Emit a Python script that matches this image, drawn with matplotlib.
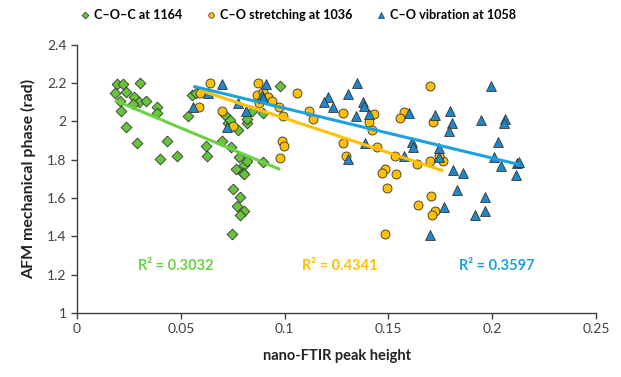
import numpy as np
import matplotlib
matplotlib.use("Agg")
import matplotlib.pyplot as plt
from matplotlib.lines import Line2D

plt.rcParams['font.family'] = ['Lato', 'DejaVu Sans']

# ---- data ----
coc_x = [0.0191, 0.0220, 0.0303, 0.0183, 0.0236, 0.0275, 0.0207, 0.0300, 0.0332, 0.0271,
         0.0212, 0.0236, 0.0387, 0.0387, 0.0288, 0.0432, 0.0400, 0.0483, 0.0535, 0.0552,
         0.0573, 0.0621, 0.0625, 0.0697, 0.0713, 0.0726, 0.0737, 0.0740, 0.0777, 0.0782,
         0.0766, 0.0804, 0.0817, 0.0798, 0.0804, 0.0753, 0.0785, 0.0769, 0.0804, 0.0785,
         0.0745, 0.0817, 0.0817, 0.0841, 0.0894, 0.0978, 0.0894]
coc_y = [2.196, 2.196, 2.200, 2.148, 2.155, 2.127, 2.106, 2.104, 2.109, 2.090,
         2.052, 1.970, 2.078, 2.043, 1.887, 1.899, 1.805, 1.817, 2.029, 2.139,
         2.148, 1.873, 1.817, 1.899, 2.034, 1.991, 2.008, 1.864, 1.956, 1.813,
         1.751, 1.773, 1.794, 1.733, 1.725, 1.649, 1.608, 1.559, 1.534, 1.510,
         1.411, 1.991, 2.012, 2.052, 2.046, 2.186, 1.790]

str_x = [0.0641, 0.0592, 0.0589, 0.0700, 0.0753, 0.0873, 0.0865, 0.0894, 0.0922, 0.0938,
         0.0878, 0.0975, 0.1061, 0.0994, 0.0986, 0.0999, 0.0978, 0.1119, 0.1138, 0.1280,
         0.1408, 0.1419, 0.1431, 0.1575, 0.1553, 0.1280, 0.1296, 0.1444, 0.1532, 0.1639,
         0.1484, 0.1468, 0.1537, 0.1492, 0.1644, 0.1484, 0.1700, 0.1716, 0.1700, 0.1764,
         0.1745, 0.1704, 0.1724, 0.1709]
str_y = [2.200, 2.151, 2.078, 2.052, 1.974, 2.200, 2.139, 2.156, 2.130, 2.109,
         2.096, 2.078, 2.148, 2.029, 1.900, 1.874, 1.808, 2.057, 2.012, 2.046,
         1.995, 1.956, 2.040, 2.049, 2.017, 1.890, 1.820, 1.866, 1.820, 1.778,
         1.751, 1.733, 1.726, 1.652, 1.561, 1.413, 2.186, 1.995, 1.796, 1.796,
         1.817, 1.611, 1.534, 1.512]

vib_x = [0.0560, 0.0633, 0.0700, 0.0721, 0.0774, 0.0813, 0.0910, 0.0889, 0.1347, 0.1211,
         0.1190, 0.1304, 0.1235, 0.1377, 0.1380, 0.1344, 0.1408, 0.1601, 0.1387, 0.1307,
         0.1612, 0.1620, 0.1577, 0.1993, 0.1724, 0.1797, 0.1805, 0.1789, 0.1945, 0.2062,
         0.2058, 0.2025, 0.1741, 0.1745, 0.2009, 0.2041, 0.2121, 0.2115, 0.1810, 0.1861,
         0.1829, 0.1965, 0.1769, 0.1917, 0.1965, 0.1700, 0.0894, 0.2130]
vib_y = [2.075, 2.148, 2.196, 1.970, 2.096, 2.052, 2.196, 2.139, 2.200, 2.127,
         2.104, 2.144, 2.075, 2.104, 2.082, 2.029, 2.040, 2.046, 1.887, 1.803,
         1.895, 1.869, 1.817, 2.183, 2.034, 2.052, 1.991, 1.952, 2.008, 2.012,
         1.991, 1.895, 1.860, 1.813, 1.813, 1.768, 1.785, 1.721, 1.747, 1.730,
         1.643, 1.608, 1.555, 1.510, 1.530, 1.408, 2.121, 1.790]

labels = ['C\u2013O\u2013C at 1164', 'C\u2013O stretching at 1036', 'C\u2013O vibration at 1058']
r2_texts = ['R\u00b2 = 0.3032', 'R\u00b2 = 0.4341', 'R\u00b2 = 0.3597']
x_ticks = [0, 0.05, 0.1, 0.15, 0.2, 0.25]
x_ticklabels = ['0', '0.05', '0.1', '0.15', '0.2', '0.25']
y_ticks = [1, 1.2, 1.4, 1.6, 1.8, 2, 2.2, 2.4]
y_ticklabels = ['1', '1.2', '1.4', '1.6', '1.8', '2', '2.2', '2.4']

# ---- style ----
marker_colors = ['#66C43A', '#FFC000', '#1E88C8']
line_colors = ['#6AD243', '#FFC000', '#1BA1E2']
markers = ['D', 'o', '^']
sizes = [30, 42, 50]

fig = plt.figure(figsize=(6.21, 3.77), dpi=100)
ax = fig.add_axes([0.124, 0.170, 0.836, 0.711])

series = [(coc_x, coc_y), (str_x, str_y), (vib_x, vib_y)]
for (xs, ys), mc, m, s in zip(series, marker_colors, markers, sizes):
    ax.scatter(np.array(xs), np.array(ys), marker=m, s=s, c=mc, edgecolors='#333333',
               linewidths=0.6, zorder=3)
for (xs, ys), lc in zip(series, line_colors):
    xs = np.array(xs); ys = np.array(ys)
    k, b = np.polyfit(xs, ys, 1)
    xx = np.array([xs.min(), xs.max()])
    ax.plot(xx, k * xx + b, color=lc, lw=2.2, zorder=4, solid_capstyle='butt')

r2_x = [0.0477, 0.1267, 0.2023]
for t, c, xp in zip(r2_texts, line_colors, r2_x):
    ax.text(xp, 1.246, t, color=c, fontsize=10.5, fontweight='bold', ha='center', va='center')

ax.set_xlim(0, 0.25)
ax.set_ylim(1, 2.4)
ax.set_xticks(x_ticks)
ax.set_xticklabels(x_ticklabels)
ax.set_yticks(y_ticks)
ax.set_yticklabels(y_ticklabels)
ax.spines['top'].set_visible(False)
ax.spines['right'].set_visible(False)
for sp in ('left', 'bottom'):
    ax.spines[sp].set_color('#404040')
    ax.spines[sp].set_linewidth(1.0)
ax.tick_params(axis='both', direction='out', length=4, width=1, color='#404040',
               labelsize=10, labelcolor='#404040')
ax.set_xlabel('nano-FTIR peak height', fontsize=10.5, fontweight='bold', color='#222222', labelpad=10)
ax.set_ylabel('AFM mechanical phase (rad)', fontsize=11.5, fontweight='bold', color='#222222', labelpad=8)

handles = [Line2D([], [], ls='none', marker=m, markersize=ms, markerfacecolor=c,
                  markeredgecolor='#333333', markeredgewidth=0.5)
           for m, c, ms in zip(markers, marker_colors, [3.5, 4, 4.5])]
fig.legend(handles, labels, loc='upper center', bbox_to_anchor=(0.478, 1.005), ncol=3,
           frameon=False, prop={'weight': 'bold', 'size': 9.1}, handletextpad=0.1,
           columnspacing=1.7, handlelength=1.2)

fig.savefig('out.png', dpi=100)
